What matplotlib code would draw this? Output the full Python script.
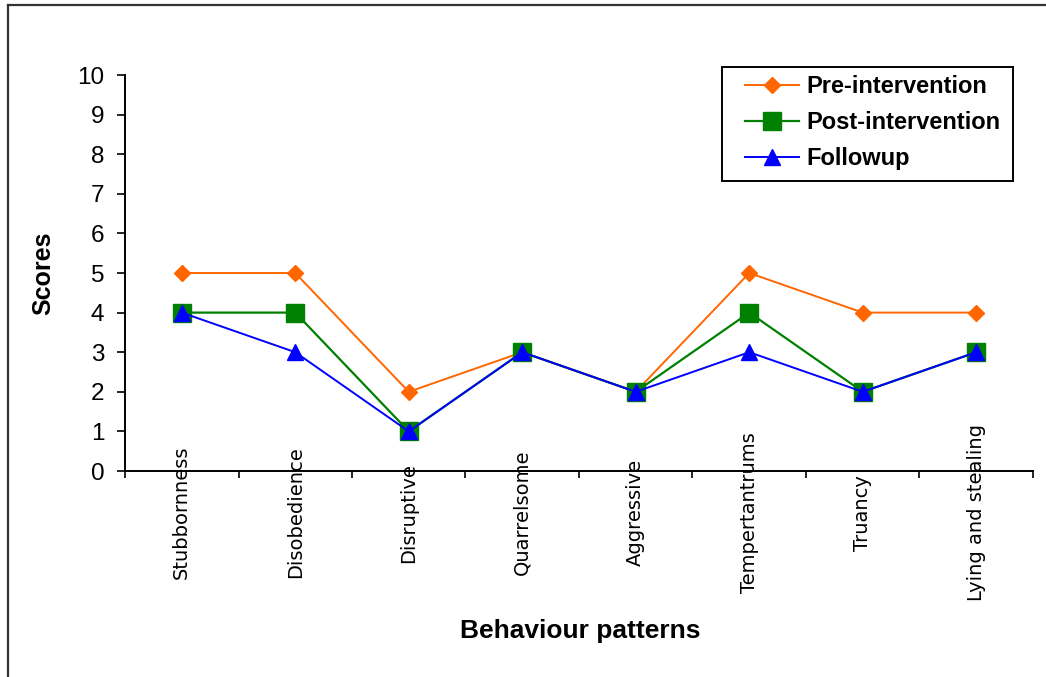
import numpy as np
import matplotlib
matplotlib.use("Agg")
import matplotlib.pyplot as plt
from matplotlib.lines import Line2D
from matplotlib.patches import Rectangle

# behaviour patterns and scores for each phase
patterns = ["Stubbornness", "Disobedience", "Disruptive", "Quarrelsome",
            "Aggressive", "Tempertantrums", "Truancy", "Lying and stealing"]
pre = [5, 5, 2, 3, 2, 5, 4, 4]
post = [4, 4, 1, 3, 2, 4, 2, 3]
follow = [4, 3, 1, 3, 2, 3, 2, 3]

W, H = 1046, 677
fig = plt.figure(figsize=(W / 100, H / 100), dpi=100)
ax = fig.add_axes([125 / W, 1 - 471 / H, (1033 - 125) / W, (471 - 75) / H])

x = np.arange(len(patterns))
ax.plot(x, pre, color="#FF6600", lw=1.4, marker="D", ms=8.5,
        label="Pre-intervention")
ax.plot(x, post, color="#008000", lw=1.6, marker="s", ms=12.5,
        label="Post-intervention")
ax.plot(x, follow, color="#0000FF", lw=1.4, marker="^", ms=11,
        label="Followup")

ax.set_xlim(-0.5, len(patterns) - 0.5)
ax.set_ylim(0, 10)
ax.set_yticks(range(0, 11))
ax.set_xticks(np.arange(len(patterns) + 1) - 0.5)
ax.set_xticklabels([])
ax.tick_params(axis="y", direction="out", length=6, width=1.2,
               labelsize=17.5, pad=9)
ax.tick_params(axis="x", direction="out", length=5, width=1.2)
for lab in ax.get_yticklabels():
    lab.set_family("Liberation Sans")
for s in ["top", "right"]:
    ax.spines[s].set_visible(False)
for s in ["left", "bottom"]:
    ax.spines[s].set_linewidth(1.4)

# rotated category names sitting across the axis line
for i, name in enumerate(patterns):
    ax.text(i, -1.05, name, rotation=90, ha="center", va="center",
            fontsize=14, family="DejaVu Sans", clip_on=False)

fig.text(43 / W, 1 - 273 / H, "Scores", rotation=90, ha="center",
         va="center", fontsize=18, fontweight="bold", family="Liberation Sans")
fig.text(580 / W, 1 - 631 / H, "Behaviour patterns", ha="center",
         va="center", fontsize=19, fontweight="bold",
         family="Liberation Sans")

# legend without its own frame, boxed separately
leg = ax.legend(loc="upper left", bbox_to_anchor=(745 / W, 1 - 75 / H),
                bbox_transform=fig.transFigure, frameon=False,
                handlelength=2.3, labelspacing=0.55, borderpad=0,
                borderaxespad=0, handletextpad=0.3,
                prop={"family": "Liberation Sans", "weight": "bold",
                      "size": 17})
fig.add_artist(Rectangle((722 / W, 1 - 181 / H), (1013 - 722) / W,
                         (181 - 67) / H, transform=fig.transFigure,
                         fill=False, edgecolor="black", lw=1.4))

# outer border
fig.add_artist(Line2D([8 / W, 1], [1 - 5 / H, 1 - 5 / H], color="#333333",
                      lw=1.6, transform=fig.transFigure))
fig.add_artist(Line2D([8 / W, 8 / W], [0, 1 - 5 / H], color="#333333",
                      lw=1.6, transform=fig.transFigure))

fig.savefig("out.png", dpi=100)
